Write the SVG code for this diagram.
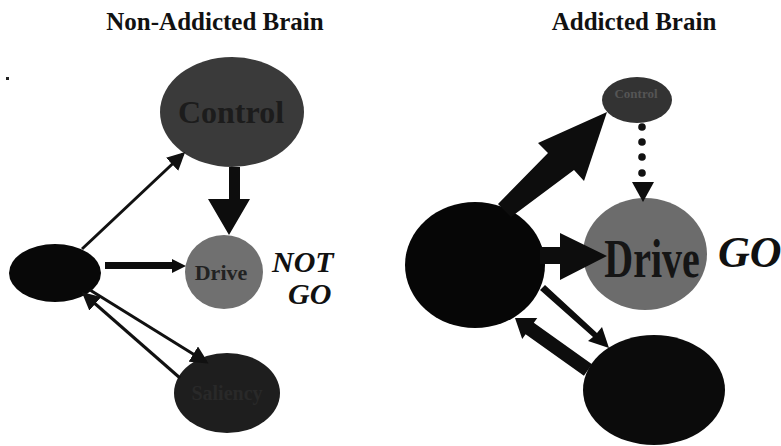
<svg xmlns="http://www.w3.org/2000/svg" width="781" height="446" viewBox="0 0 781 446">
<style>
.title{font-family:"Liberation Serif","Times New Roman",serif;font-weight:bold;font-size:25px;fill:#111}
.lbl{font-family:"Liberation Serif","Times New Roman",serif;font-weight:bold;text-anchor:middle}
.go{font-family:"Liberation Serif","Times New Roman",serif;font-weight:bold;font-style:italic;fill:#111}
.thin{stroke:#111;stroke-width:3;fill:none}
.blk{fill:#0d0d0d}
</style>
<defs>
<marker id="ah" markerWidth="6" markerHeight="6" refX="5" refY="3" orient="auto" markerUnits="strokeWidth">
<path d="M0,0 L6,3 L0,6 Z" fill="#111"/>
</marker>
</defs>
<rect width="781" height="446" fill="#fff"/>
<rect x="6" y="77" width="3" height="3" fill="#222"/>
<text class="title" x="215" y="30" text-anchor="middle">Non-Addicted Brain</text>
<text class="title" x="634" y="30" text-anchor="middle">Addicted Brain</text>

<g id="left-control">
<ellipse cx="232" cy="112" rx="72" ry="55" fill="#3a3a3a"/>
<text class="lbl" x="231" y="123" font-size="32" fill="#1c1c1c">Control</text>
</g>
<g id="left-drive">
<ellipse cx="224" cy="272" rx="39" ry="37" fill="#707070"/>
<text class="lbl" x="221" y="280" font-size="22" fill="#222">Drive</text>
</g>
<g id="left-source">
<ellipse cx="55" cy="273" rx="46" ry="29" fill="#080808"/>
</g>
<g id="left-bottom">
<ellipse cx="227" cy="393" rx="53" ry="40" fill="#1e1e1e"/>
<text class="lbl" x="227" y="400" font-size="20" fill="#292929">Saliency</text>
</g>
<g id="left-status">
<text class="go" x="272" y="272" font-size="30">NOT</text>
<text class="go" x="288" y="304" font-size="30">GO</text>
</g>

<g id="right-control">
<ellipse cx="637" cy="100" rx="35" ry="23" fill="#333"/>
<text class="lbl" x="636" y="98" font-size="13" fill="#555">Control</text>
</g>
<g id="right-drive">
<ellipse cx="645" cy="254" rx="62" ry="56" fill="#6c6c6c"/>
<text class="lbl" x="652" y="0" font-size="40" fill="#151515" transform="translate(0,277) scale(1,1.35)">Drive</text>
</g>
<g id="right-source">
<ellipse cx="475" cy="265" rx="70" ry="63" fill="#060606"/>
</g>
<g id="right-bottom">
<ellipse cx="654" cy="390" rx="71" ry="55" fill="#0b0b0b"/>
</g>
<g id="right-status">
<text class="go" x="718" y="267" font-size="44">GO</text>
</g>

<g id="connectors">
<!-- left -->
<line class="thin" x1="82" y1="249" x2="183" y2="154" marker-end="url(#ah)"/>
<path class="blk" d="M229,167 L240,167 L240,199 L250,199 L229,235 L208,199 L229,199 Z"/>
<path class="blk" d="M105,262 L172,262 L172,259 L186,266 L172,273 L172,269 L105,269 Z"/>
<line class="thin" x1="90" y1="290" x2="206" y2="362" marker-end="url(#ah)"/>
<line class="thin" x1="180" y1="378" x2="84" y2="294" marker-end="url(#ah)"/>
<!-- right -->
<path class="blk" d="M498,204 L548,153 L538,143 L607,112 L584,181 L574,170 L511,217 Z"/>
<circle cx="642" cy="127" r="3.8" fill="#111"/>
<circle cx="642" cy="142" r="3.8" fill="#111"/>
<circle cx="642" cy="157" r="3.8" fill="#111"/>
<circle cx="642" cy="173" r="3.8" fill="#111"/>
<path class="blk" d="M632,182 L654,182 L643,202 Z"/>
<path class="blk" d="M540,247 L560,247 L560,233 L607,256 L560,280 L560,264 L540,264 Z"/>
<path class="blk" d="M540,290 L545,285 L597,333 L602,327 L609,348 L588,341 L593,337 Z"/>
<path class="blk" d="M592,364.3 L533.8,322.8 L537.3,317.9 L515,318 L522.2,339.1 L525.6,334.2 L583.9,375.7 Z"/>
</g>
</svg>
